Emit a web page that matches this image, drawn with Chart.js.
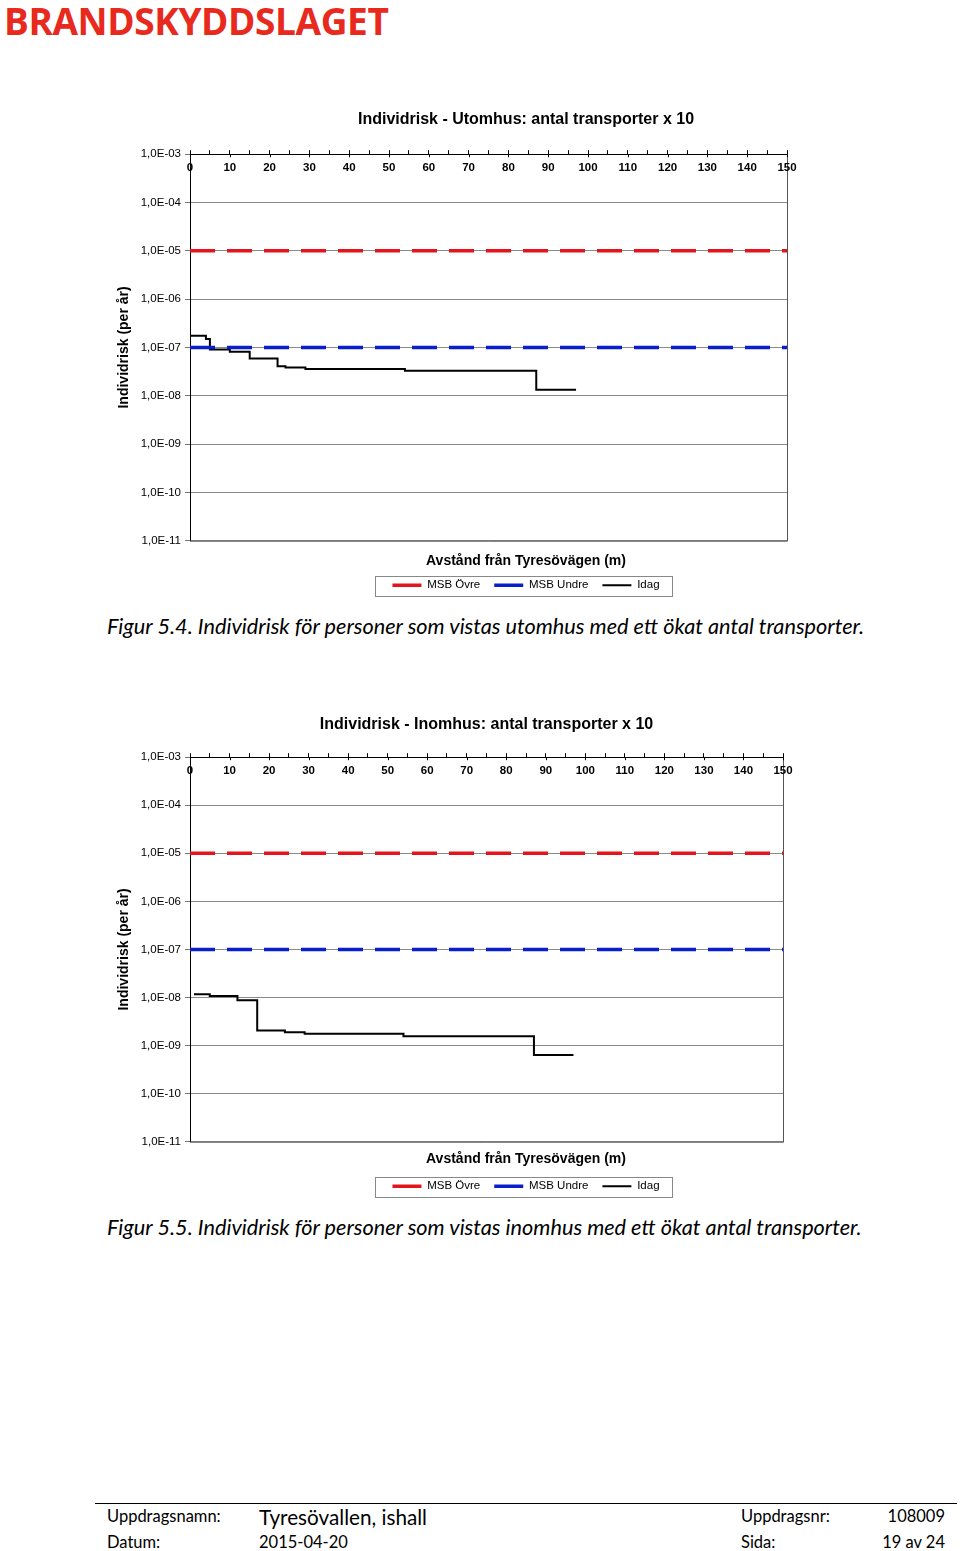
<!DOCTYPE html>
<html>
<head>
<meta charset="utf-8">
<script src="https://cdn.jsdelivr.net/npm/chart.js@4/dist/chart.umd.min.js"></script>
<style>
body { margin: 0; width: 960px; height: 1551px; background: #fff; position: relative; overflow: hidden; }
.logo { position: absolute; left: 4px; top: -5px; font-family: "Open Sans", sans-serif; font-weight: 700; font-size: 37px; color: #e8291d; letter-spacing: -0.4px; }
.cap { position: absolute; left: 107px; font-family: Lato, "Open Sans", sans-serif; font-style: italic; font-size: 21.7px; color: #000; white-space: nowrap; }
.wrap { position: absolute; left: 92px; width: 868px; }
.foot { position: absolute; font-family: Lato, "Open Sans", sans-serif; font-size: 16.5px; color: #000; white-space: nowrap; }
.rule { position: absolute; left: 95px; top: 1503px; width: 862px; border-top: 1px solid #000; }
</style>
</head>
<body>
<div class="logo">BRANDSKYDDSLAGET</div>

<div class="wrap" style="top:100px;height:501px"><canvas id="utomhus"></canvas></div>
<div class="cap" style="top:613px">Figur 5.4. Individrisk för personer som vistas utomhus med ett ökat antal transporter.</div>

<div class="wrap" style="top:703px;height:499px"><canvas id="inomhus"></canvas></div>
<div class="cap" style="top:1214px">Figur 5.5. Individrisk för personer som vistas inomhus med ett ökat antal transporter.</div>

<div class="rule"></div>
<div class="foot" style="left:107px;top:1506px">Uppdragsnamn:</div>
<div class="foot" style="left:259px;top:1505px;font-size:20.7px">Tyresövallen, ishall</div>
<div class="foot" style="left:741px;top:1506px">Uppdragsnr:</div>
<div class="foot" style="right:15px;top:1506px">108009</div>
<div class="foot" style="left:107px;top:1532px">Datum:</div>
<div class="foot" style="left:259px;top:1532px">2015-04-20</div>
<div class="foot" style="left:741px;top:1532px">Sida:</div>
<div class="foot" style="right:15px;top:1532px">19 av 24</div>

<script>
// avstånd (m) och individrisk (per år), avläst ur figurerna
var distUte = [0, 4, 5, 10, 15, 22, 24, 29, 54, 87, 97];
var riskUte = [1.74e-7, 1.49e-7, 9.1e-8, 8.1e-8, 5.9e-8, 4.1e-8, 3.85e-8, 3.56e-8, 3.29e-8, 1.33e-8, 1.33e-8];

var distInne = [1, 5, 12, 17, 24, 29, 54, 87, 97];
var riskInne = [1.17e-8, 1.08e-8, 8.8e-9, 2.06e-9, 1.9e-9, 1.76e-9, 1.57e-9, 6.4e-10, 6.4e-10];

var msbDist = [0, 150];
var msbOvre = 1e-5;
var msbUndre = 1e-7;

var xTicks = [0, 10, 20, 30, 40, 50, 60, 70, 80, 90, 100, 110, 120, 130, 140, 150];
var yTicks = [1e-3, 1e-4, 1e-5, 1e-6, 1e-7, 1e-8, 1e-9, 1e-10, 1e-11];

var font = "'Liberation Sans', Arial, sans-serif";

function pts(xs, ys) {
  return xs.map(function(x, i) { return {x: x, y: ys[i]}; });
}
function flat(xs, v) {
  return xs.map(function(x) { return {x: x, y: v}; });
}
function fmtExp(v) {
  var e = Math.round(Math.log10(v));
  var s = Math.abs(e) < 10 ? '0' + Math.abs(e) : '' + Math.abs(e);
  return '1,0E' + (e < 0 ? '-' : '+') + s;
}

var framePlugin = {
  id: 'frame',
  afterDraw: function(chart) {
    var ctx = chart.ctx, a = chart.chartArea, x = chart.scales.x;
    ctx.save();
    ctx.strokeStyle = '#555';
    ctx.lineWidth = 1;
    ctx.beginPath();
    ctx.moveTo(a.right + 0.5, a.top);
    ctx.lineTo(a.right + 0.5, a.bottom + 0.5);
    ctx.lineTo(a.left, a.bottom + 0.5);
    ctx.stroke();

    // x-etiketter innanför diagramytan, under den övre axeln
    ctx.fillStyle = '#000';
    ctx.strokeStyle = '#000';
    ctx.font = 'bold 11.5px ' + font;
    ctx.textAlign = 'center';
    ctx.textBaseline = 'middle';
    xTicks.forEach(function(v) {
      var px = x.getPixelForValue(v);
      ctx.fillText(String(v), px, a.top + 14);
      ctx.beginPath();
      ctx.moveTo(Math.round(px) + 0.5, a.top);
      ctx.lineTo(Math.round(px) + 0.5, a.top + 3);
      ctx.stroke();
    });

    // ruta kring legenden
    var hb = chart.legend.legendHitBoxes;
    if (hb && hb.length) {
      var last = hb[hb.length - 1];
      var l = hb[0].left - 17, r = last.left + last.width + 13;
      var t = hb[0].top - 4, b = hb[0].top + hb[0].height + 4;
      ctx.strokeStyle = '#888';
      ctx.strokeRect(Math.round(l) + 0.5, Math.round(t) + 0.5, Math.round(r - l), Math.round(b - t));
    }
    ctx.restore();
  }
};

function makeChart(id, title, o) {
  var ctx = document.getElementById(id).getContext('2d');
  return new Chart(ctx, {
    type: 'line',
    data: {
      datasets: [{
        label: 'MSB Övre',
        data: flat(msbDist, msbOvre),
        borderColor: '#e3141c',
        borderWidth: 3.5,
        borderDash: [25, 12],
        pointRadius: 0
      }, {
        label: 'MSB Undre',
        data: flat(msbDist, msbUndre),
        borderColor: '#0a1fcc',
        borderWidth: 3.5,
        borderDash: [25, 12],
        pointRadius: 0
      }, {
        label: 'Idag',
        data: pts(o.dist, o.risk),
        borderColor: '#000',
        borderWidth: 2,
        stepped: true,
        pointRadius: 0
      }]
    },
    options: {
      responsive: true,
      maintainAspectRatio: false,
      animation: false,
      layout: { padding: 0 },
      plugins: {
        title: {
          display: true,
          text: title,
          fullSize: o.titleFull,
          color: '#000',
          font: { family: font, size: 16, weight: 'bold' },
          padding: { top: o.titleTop, bottom: o.titleBottom }
        },
        subtitle: {
          display: true,
          position: 'bottom',
          weight: 500,
          text: 'Avstånd från Tyresövägen (m)',
          color: '#000',
          font: { family: font, size: 14, weight: 'bold' },
          padding: { top: o.subTop, bottom: o.subBottom },
          fullSize: true
        },
        legend: {
          position: 'bottom',
          labels: {
            color: '#000',
            font: { family: font, size: 11.5 },
            usePointStyle: true,
            pointStyle: 'line',
            pointStyleWidth: 29,
            padding: 14,
            generateLabels: function(chart) {
              var items = Chart.defaults.plugins.legend.labels.generateLabels(chart);
              items.forEach(function(it) { it.lineDash = []; it.pointStyle = 'line'; });
              return items;
            }
          }
        },
        tooltip: { enabled: false }
      },
      scales: {
        x: {
          type: 'linear',
          position: 'top',
          min: 0,
          max: 150,
          ticks: { stepSize: 5, autoSkip: false, display: false },
          grid: { drawOnChartArea: false, tickLength: 4, color: '#000' },
          border: { color: '#000', width: 1 },
          afterFit: function(s) { s.height = 4; }
        },
        y: {
          type: 'logarithmic',
          min: 1e-11,
          max: 1e-3,
          afterBuildTicks: function(s) { s.ticks = yTicks.map(function(v) { return {value: v}; }); },
          afterFit: function(s) { s.width = 98; },
          ticks: {
            color: '#000',
            padding: 4,
            font: { family: font, size: 11.5 },
            callback: function(v) { return fmtExp(v); }
          },
          grid: { color: '#8a8a8a', tickLength: 5, tickColor: '#777' },
          border: { color: '#000', width: 1 },
          title: {
            display: true,
            text: 'Individrisk (per år)',
            color: '#000',
            font: { family: font, size: 14, weight: 'bold' },
            padding: { top: 24 }
          }
        },
        yRight: {
          type: 'linear',
          position: 'right',
          display: true,
          ticks: { display: false },
          grid: { display: false },
          border: { display: false },
          afterFit: function(s) { s.width = o.right; }
        }
      }
    },
    plugins: [framePlugin]
  });
}

makeChart('utomhus', 'Individrisk - Utomhus: antal transporter x 10', {
  dist: distUte, risk: riskUte, titleFull: true, right: 173,
  titleTop: 10, titleBottom: 21, subTop: 12, subBottom: -4
});
makeChart('inomhus', 'Individrisk - Inomhus: antal transporter x 10', {
  dist: distInne, risk: riskInne, titleFull: false, right: 177,
  titleTop: 12, titleBottom: 19, subTop: 9, subBottom: -1
});
</script>
</body>
</html>
